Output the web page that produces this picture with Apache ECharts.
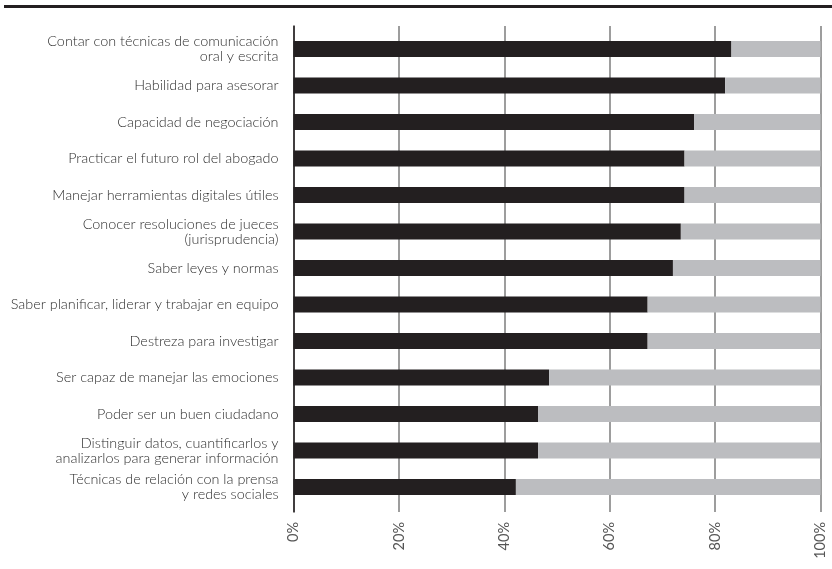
<!DOCTYPE html>
<html>
<head>
<meta charset="utf-8">
<script src="https://cdn.jsdelivr.net/npm/echarts@6/dist/echarts.min.js"></script>
<style>
  html, body { margin: 0; padding: 0; background: #fff; }
  #chart { width: 832px; height: 569px; }
</style>
</head>
<body>
<div id="chart"></div>
<script>
// Competencias (de arriba hacia abajo)
const categories = [
  'Contar con técnicas de comunicación\noral y escrita',
  'Habilidad para asesorar',
  'Capacidad de negociación',
  'Practicar el futuro rol del abogado',
  'Manejar herramientas digitales útiles',
  'Conocer resoluciones de jueces\n(jurisprudencia)',
  'Saber leyes y normas',
  'Saber planificar, liderar y trabajar en equipo',
  'Destreza para investigar',
  'Ser capaz de manejar las emociones',
  'Poder ser un buen ciudadano',
  'Distinguir datos, cuantificarlos y\nanalizarlos para generar información',
  'Técnicas de relación con la prensa\ny redes sociales'
];

// Porcentaje principal (barra oscura)
const mainShare = [83.1, 81.9, 76.0, 74.2, 74.2, 73.5, 72.0, 67.2, 67.2, 48.5, 46.4, 46.4, 42.2];
// Resto hasta 100% (barra gris)
const restShare = [16.9, 18.1, 24.0, 25.8, 25.8, 26.5, 28.0, 32.8, 32.8, 51.5, 53.6, 53.6, 57.8];

const axisTicks = [0, 20, 40, 60, 80, 100];

const FONT = 'Lato, "Open Sans", sans-serif';

const chart = echarts.init(document.getElementById('chart'), null, { renderer: 'canvas' });

chart.setOption({
  backgroundColor: '#ffffff',
  animation: false,
  graphic: [{
    type: 'rect',
    shape: { x: 4, y: 5, width: 828, height: 3 },
    style: { fill: '#231f20' }
  }],
  grid: [
    // bars
    { left: 293.5, right: 11.5, top: 30.75, height: 474.5, containLabel: false },
    // reference lines and percentage scale
    { left: 293.5, right: 11.5, top: 26, height: 486, containLabel: false }
  ],
  xAxis: [
    { gridIndex: 0, type: 'value', min: 0, max: 100, show: false },
    {
      gridIndex: 1, type: 'value', min: axisTicks[0], max: axisTicks[axisTicks.length - 1], interval: 20,
      axisLine: { show: false },
      axisTick: { show: false },
      splitLine: { show: true, lineStyle: { color: '#7d7d7d', width: 1.5 } },
      axisLabel: {
        rotate: 90, margin: 10, color: '#555555', fontSize: 14.5, fontFamily: FONT, fontWeight: 400,
        formatter: '{value}%'
      }
    }
  ],
  yAxis: [
    {
      gridIndex: 0, type: 'category', data: categories, inverse: true,
      axisLine: { show: false }, axisTick: { show: false }, splitLine: { show: false },
      axisLabel: {
        margin: 15, color: '#2e2e2e', fontSize: 14.4, fontFamily: FONT, fontWeight: 300,
        lineHeight: 15, align: 'right'
      }
    },
    {
      gridIndex: 1, type: 'value', min: 0, max: 1,
      axisLine: { show: true, lineStyle: { color: '#231f20', width: 1.5 } },
      axisTick: { show: false }, axisLabel: { show: false }, splitLine: { show: false }
    }
  ],
  series: [
    {
      name: 'principal', type: 'bar', stack: 'total', xAxisIndex: 0, yAxisIndex: 0,
      data: mainShare, barWidth: 16,
      itemStyle: { color: '#231f20' }, z: 3
    },
    {
      name: 'resto', type: 'bar', stack: 'total', xAxisIndex: 0, yAxisIndex: 0,
      data: restShare, barWidth: 16,
      itemStyle: { color: '#bcbdc0' }, z: 3
    }
  ]
});
</script>
</body>
</html>
